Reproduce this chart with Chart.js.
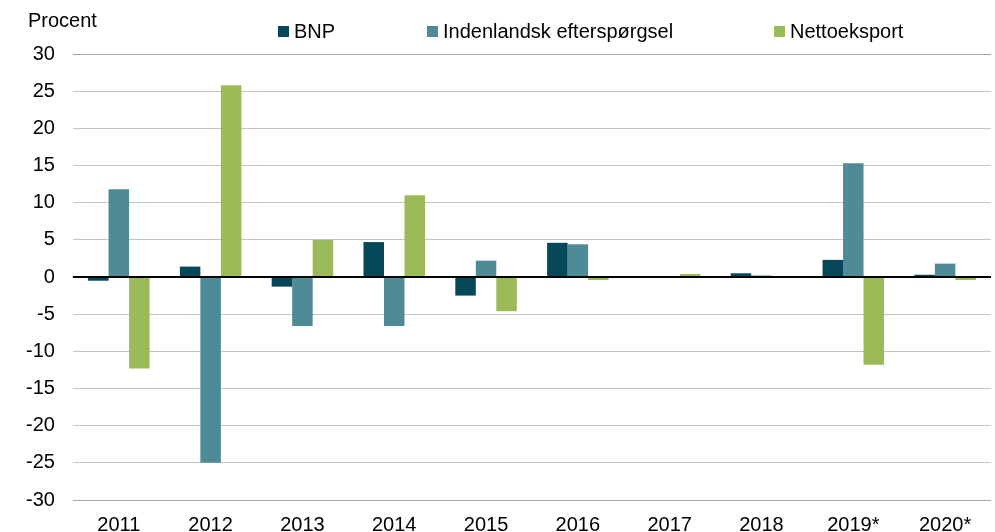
<!DOCTYPE html>
<html>
<head>
<meta charset="utf-8">
<script src="https://cdn.jsdelivr.net/npm/chart.js@4.4.1/dist/chart.umd.min.js"></script>
<style>
    html, body { margin: 0; padding: 0; background: #fff; }
    #wrap { width: 995px; height: 532px; position: relative; }
</style>
</head>
<body>
<div id="wrap"><canvas id="chart"></canvas></div>
<script>
const years = ['2011', '2012', '2013', '2014', '2015', '2016', '2017', '2018', '2019*', '2020*'];
const bnp = [-0.5, 1.4, -1.3, 4.7, -2.5, 4.6, 0.0, 0.5, 2.3, 0.3];
const domesticDemand = [11.8, -25.0, -6.6, -6.6, 2.2, 4.4, 0.0, 0.2, 15.3, 1.8];
const netExport = [-12.3, 25.8, 5.0, 11.0, -4.6, -0.4, 0.4, 0.0, -11.8, -0.4];
const yTicks = [-30, -25, -20, -15, -10, -5, 0, 5, 10, 15, 20, 25, 30];
const unitLabel = 'Procent';

const FONT = "'Liberation Sans', Arial, sans-serif";
const colors = ['#07475a', '#4f8b97', '#9bbb59'];

// legend drawn by hand, the built-in one can't space items this wide
const legendX = [278, 427, 774];

const zeroLinePlugin = {
    id: 'zeroLine',
    afterDatasetsDraw(chart) {
        const { ctx, chartArea, scales } = chart;
        const y = scales.y.getPixelForValue(0);
        ctx.save();
        ctx.strokeStyle = '#000';
        ctx.lineWidth = 2;
        ctx.beginPath();
        ctx.moveTo(chartArea.left, y);
        ctx.lineTo(chartArea.right, y);
        ctx.stroke();
        ctx.restore();
    }
};

const headerPlugin = {
    id: 'header',
    afterDraw(chart) {
        const ctx = chart.ctx;
        ctx.save();
        ctx.font = '20px ' + FONT;
        ctx.fillStyle = '#000';
        ctx.textBaseline = 'middle';
        ctx.textAlign = 'left';
        ctx.fillText(unitLabel, 28, 21);

        chart.data.datasets.forEach((ds, i) => {
            const x = legendX[i];
            ctx.fillStyle = ds.backgroundColor;
            ctx.fillRect(x, 26, 11, 11);
            ctx.fillStyle = '#000';
            ctx.fillText(ds.label, x + 16, 32);
        });
        ctx.restore();
    }
};

new Chart(document.getElementById('chart'), {
    type: 'bar',
    data: {
        labels: years,
        datasets: [
            { label: 'BNP', data: bnp, backgroundColor: colors[0] },
            { label: 'Indenlandsk efterspørgsel', data: domesticDemand, backgroundColor: colors[1] },
            { label: 'Nettoeksport', data: netExport, backgroundColor: colors[2] }
        ]
    },
    options: {
        responsive: true,
        maintainAspectRatio: false,
        animation: false,
        layout: {
            padding: { top: 54, right: 4, bottom: -18, left: 8 }
        },
        datasets: {
            bar: {
                barPercentage: 1,
                categoryPercentage: 0.67
            }
        },
        scales: {
            x: {
                grid: { display: false, drawTicks: false },
                border: { display: false },
                ticks: {
                    color: '#000',
                    font: { family: FONT, size: 20 },
                    maxRotation: 0,
                    autoSkip: false,
                    padding: 13
                }
            },
            y: {
                min: -30,
                max: 30,
                afterBuildTicks: (scale) => {
                    scale.ticks = yTicks.map(v => ({ value: v }));
                },
                grid: {
                    // 0 is drawn on top of the bars by zeroLinePlugin
                    color: (c) => {
                        if (!c.tick) return '#b4b4b4';
                        if (c.tick.value === 0) return 'rgba(0,0,0,0)';
                        return Math.abs(c.tick.value) === 30 ? '#a6a6a6' : '#c4c4c4';
                    },
                    lineWidth: 1,
                    drawTicks: false
                },
                border: { display: false },
                ticks: {
                    color: '#000',
                    font: { family: FONT, size: 20 },
                    padding: 18
                }
            }
        },
        plugins: {
            legend: { display: false },
            title: { display: false },
            tooltip: { enabled: false }
        }
    },
    plugins: [zeroLinePlugin, headerPlugin]
});
</script>
</body>
</html>
